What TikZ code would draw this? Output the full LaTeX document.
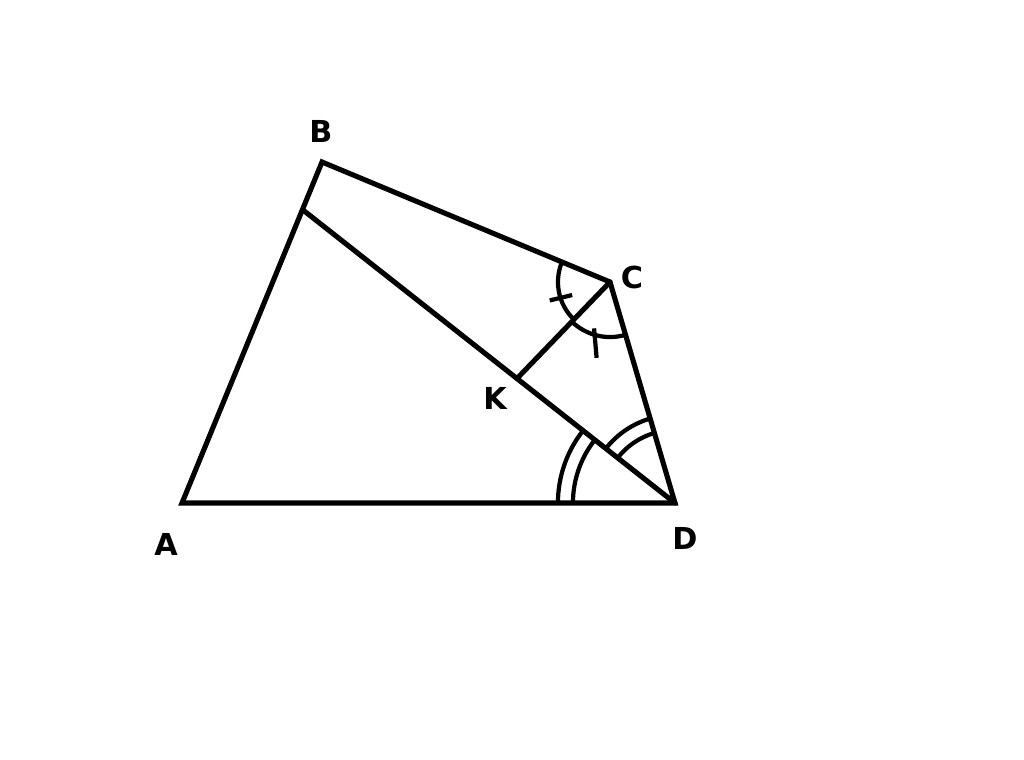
\documentclass[tikz,border=0pt]{standalone}
\usepackage{fontspec}
\setsansfont{DejaVu Sans}
\usetikzlibrary{calc}
\begin{document}
\begin{tikzpicture}[x=0.01cm,y=0.01cm,
  edge/.style={line width=1.45pt,line cap=round,line join=miter},
  anglemark/.style={line width=1.2pt},
  lbl/.style={font=\sffamily\bfseries\fontsize{8.6}{10}\selectfont,inner sep=0pt}]
\useasboundingbox[fill=white] (0,0) rectangle (1024,759);
\coordinate (A) at (182,256);
\coordinate (B) at (322,597);
\coordinate (C) at (610,477);
\coordinate (D) at (675,256);
\coordinate (P) at (303,549);
\coordinate (K) at (517,380.5);
\node[lbl] (lA) at (166,215) {A};
\node[lbl] (lB) at (321,628) {B};
\node[lbl] (lC) at (632,482) {C};
\node[lbl] (lK) at (495,361) {K};
\node[lbl] (lD) at (685,221) {D};
\draw[edge] (A) -- (B) -- (C) -- (D) -- cycle;
\draw[edge] (D) -- (P);
\draw[edge] (C) -- (K);
% angle marks at D
\draw[anglemark] ($(D)+(180:1.17cm)$) arc[start angle=180,end angle=141.8,radius=1.17cm];
\draw[anglemark] ($(D)+(180:1.02cm)$) arc[start angle=180,end angle=141.8,radius=1.02cm];
\draw[anglemark] ($(D)+(141.8:0.88cm)$) arc[start angle=141.8,end angle=106.4,radius=0.88cm];
\draw[anglemark] ($(D)+(141.8:0.73cm)$) arc[start angle=141.8,end angle=106.4,radius=0.73cm];
% angle marks at C
\draw[anglemark] ($(C)+(157.4:0.52cm)$) arc[start angle=157.4,end angle=226,radius=0.52cm];
\draw[anglemark] ($(C)+(226:0.55cm)$) arc[start angle=226,end angle=286.4,radius=0.55cm];
\draw[anglemark] ($(C)+(199:0.40cm)$) -- ($(C)+(197:0.63cm)$);
\draw[anglemark] ($(C)+(251:0.49cm)$) -- ($(C)+(260:0.77cm)$);
\end{tikzpicture}
\end{document}
